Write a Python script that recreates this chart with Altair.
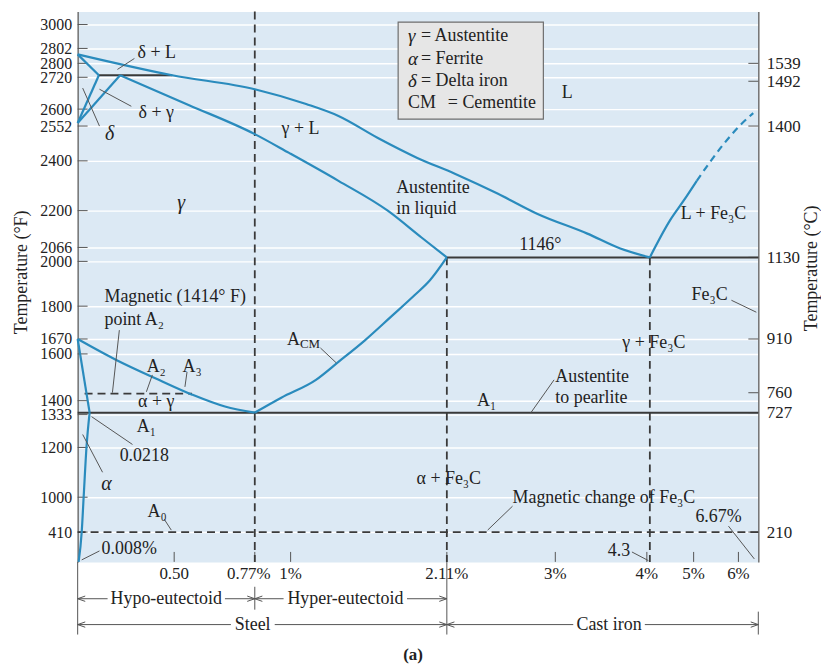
import altair as alt
import pandas as pd

FONT = "Liberation Serif"
TXT = "#222222"
BLUE = "#2a8bbd"
DARK = "#3a3a3a"
AXC = "#707070"
BG = "#dce9f4"

# ---------------- schematic (piecewise) scales ----------------
X_DOM = [0, 0.5, 0.77, 1, 2.11, 3, 4, 4.3, 5, 6, 6.67]
X_RNG = [0, 97, 178, 214, 371, 480, 572, 575, 619, 664, 684]
T_DOM = [70, 410, 1333, 1414, 1670, 2066, 2552, 2720, 2802, 3000, 3103]
T_RNG = [553, 523, 403, 384, 329, 247, 112, 64, 43, 13, 0]

# ---------------- axis ticks ----------------
F_TICKS = [410, 1000, 1200, 1333, 1400, 1600, 1670, 1800, 2000, 2066,
           2200, 2400, 2552, 2600, 2720, 2800, 2802, 3000]
F_RANGE = [523, 488, 438, 405, 391, 344, 329, 296, 251, 237,
           200, 150, 115, 98, 66, 52, 37, 13]
C_TICKS = [210, 727, 760, 910, 1130, 1400, 1492, 1539]
C_RANGE = [523, 403, 383, 329, 247, 115, 70, 52]
X_TICKS = [0.5, 0.77, 1, 2.11, 3, 4, 5, 6]
X_LABELS = ["0.50", "0.77%", "1%", "2.11%", "3%", "4%", "5%", "6%"]

# ---------------- phase boundaries (wt% C, deg F) ----------------
liquidus_x = [0, 0.49, 0.77, 1.11, 1.34, 1.62, 1.9, 2.18, 2.53, 2.85, 3.35, 3.71, 4.3]
liquidus_t = [2802, 2720, 2671, 2619, 2577, 2498, 2426, 2368, 2296, 2224, 2152, 2098, 2066]
gsol_x = [0.22, 0.55, 0.77, 0.99, 1.34, 1.69, 1.93, 2.11]
gsol_t = [2720, 2615, 2512, 2444, 2343, 2235, 2138, 2066]
acm_x = [0.77, 0.94, 1.18, 1.34, 1.53, 1.71, 1.88, 1.99, 2.11]
acm_t = [1333, 1397, 1479, 1563, 1665, 1776, 1882, 1955, 2066]
a3_x = [0, 0.2, 0.42, 0.56, 0.67, 0.77]
a3_t = [1670, 1572, 1479, 1410, 1359, 1333]
asolv_x = [0.062, 0.046, 0.031, 0.021, 0.005]
asolv_t = [1333, 1071, 679, 410, 70]
fe3c_liq_x = [4.3, 4.62, 4.84, 5.07]
fe3c_liq_t = [2066, 2199, 2271, 2343]
fe3c_dash_x = [5.07, 5.67, 6.03, 6.5]
fe3c_dash_t = [2343, 2476, 2541, 2587]

blue_curves = {
    "liquidus": (liquidus_x, liquidus_t),
    "delta_solidus": ([0, 0.11], [2802, 2720]),
    "delta_solvus": ([0, 0.11], [2552, 2720]),
    "gamma_delta": ([0, 0.22], [2552, 2720]),
    "gamma_solidus": (gsol_x, gsol_t),
    "acm": (acm_x, acm_t),
    "a3": (a3_x, a3_t),
    "alpha_upper": ([0, 0.062], [1670, 1333]),
    "alpha_solvus": (asolv_x, asolv_t),
    "fe3c_liq": (fe3c_liq_x, fe3c_liq_t),
}
blue_dashed = {"fe3c_dash": (fe3c_dash_x, fe3c_dash_t)}
black_lines = {
    "peritectic": ([0.11, 0.49], [2720, 2720]),
    "eutectic": ([2.11, 6.67], [2066, 2066]),
    "eutectoid": ([0, 6.67], [1333, 1333]),
}
dashed_lines = {
    "magnetic_A2": ([0.036, 0.56], [1414, 1414]),
    "A0": ([0, 6.67], [410, 410]),
    "v211": ([2.11, 2.11], [2066, 70]),
    "v43": ([4.3, 4.3], [2066, 70]),
}
full_dashed_x = [0.77]

# leader lines: x1, T1, x2, T2
leaders = [
    (0.294, 2786, 0.206, 2743), (0.278, 2611, 0.113, 2671), (0.113, 2541, 0.026, 2675),
    (0.216, 1713, 0.18, 1419), (0.387, 1502, 0.356, 1423), (0.543, 1516, 0.536, 1446),
    (0.284, 1087, 0.072, 1302), (0.129, 872, 0.026, 1164), (0.448, 510, 0.485, 425),
    (0.113, 195, 0.021, 93), (1.212, 1628, 1.325, 1558), (2.99, 1479, 2.8, 1333),
    (5.844, 1858, 6.603, 1800), (2.649, 610, 2.445, 425), (5.778, 456, 6.536, 104),
    (3.837, 183, 4.15, 85),
]

# labels
center_labels = [
    (0.41, 2812, "δ + L"), (0.407, 2587, "δ + γ"), (1.07, 2530, "γ + L"),
    (3.13, 2657, "L"), (2.877, 2109, "1146°"), (5.444, 2224, "L + Fe₃C"),
    (0.407, 1540, "A₂"), (0.56, 1540, "A₃"), (0.407, 1380, "α + γ"),
    (0.356, 1218, "A₁"), (0.345, 995, "0.0218"), (0.412, 564, "A₀"),
    (1.02, 1665, "A"), (2.126, 818, "α + Fe₃C"), (2.437, 1384, "A₁"),
    (4.364, 1651, "γ + Fe₃C"), (5.356, 1882, "Fe₃C"), (5.556, 525, "6.67%"),
    (3.696, 195, "4.3"),
]
left_labels = [
    (0.139, 1873, "Magnetic (1414° F)"), (0.139, 1762, "point A₂"),
    (0.124, 217, "0.008%"), (3.0, 1493, "Austentite"), (3.0, 1397, "to pearlite"),
    (2.649, 672, "Magnetic change of Fe₃C"), (1.75, 2318, "Austentite"),
    (1.75, 2242, "in liquid"),
]
italic_labels = [(0.523, 2264, "γ"), (0.165, 2512, "δ"), (0.149, 779, "α")]
sub_labels = [(1.066, 1645, "CM")]

# legend box
legend_box = (1.764, 2.902, 2566, 3020)
legend_sym = [(1.834, 2921, "γ"), (1.834, 2782, "α"), (1.834, 2699, "δ")]
legend_txt = [(1.926, 2921, "= Austentite"), (1.926, 2782, "= Ferrite"),
              (1.926, 2699, "= Delta iron"), (1.834, 2622, "CM"), (2.118, 2622, "= Cementite")]

# composition brackets below the axis
hypo_segs = [(0, 0.155), (0.67, 0.77), (0.77, 0.955), (1.827, 2.11)]
steel_segs = [(0, 0.69), (0.898, 2.11), (2.11, 3.196), (3.978, 6.67)]
hypo_arrows = [(0, "L"), (0.77, "R"), (0.77, "L"), (2.11, "R")]
steel_arrows = [(0, "L"), (2.11, "R"), (2.11, "L"), (6.67, "R")]
hypo_text = [(0.459, "Hypo-eutectoid"), (1.389, "Hyper-eutectoid")]
steel_text = [(0.763, "Steel"), (3.587, "Cast iron")]

# ---------------- helpers ----------------
XS = alt.Scale(domain=X_DOM, range=X_RNG, nice=False, zero=False)
TS = alt.Scale(domain=T_DOM, range=T_RNG, nice=False, zero=False)


def X(f="x"):
    return alt.X(f"{f}:Q", scale=XS, axis=None)


def Y(f="T"):
    return alt.Y(f"{f}:Q", scale=TS, axis=None)


def long_df(d):
    rows = []
    for name, (xs, ts) in d.items():
        for i, (x, t) in enumerate(zip(xs, ts)):
            rows.append({"seg": name, "i": i, "x": x, "T": t})
    return pd.DataFrame(rows)


def lines(d, **kw):
    return alt.Chart(long_df(d)).mark_line(**kw).encode(
        x=X(), y=Y(), detail="seg:N", order="i:Q")


def texts(lst, **kw):
    df = pd.DataFrame(lst, columns=["x", "T", "label"])
    base = dict(font=FONT, fontSize=18, color=TXT, baseline="middle")
    base.update(kw)
    return alt.Chart(df).mark_text(**base).encode(x=X(), y=Y(), text="label:N")


layers = []

# legend box
lb = pd.DataFrame([legend_box], columns=["x", "x2", "T", "T2"])
layers.append(alt.Chart(lb).mark_rect(fill="#e6e6e6", stroke="#6e6e6e", strokeWidth=1.2).encode(
    x=X(), x2="x2:Q", y=Y(), y2="T2:Q"))

# x ticks + x axis (grid + domain), labels as text
layers.append(alt.Chart(pd.DataFrame({"x": X_TICKS})).mark_rule(color="#555", strokeWidth=1).encode(
    x=alt.X("x:Q", scale=XS, axis=alt.Axis(
        values=X_TICKS, labels=False, grid=True, gridColor="white", gridWidth=1.5,
        ticks=False, tickSize=0, domainColor=AXC, domainWidth=1.5, title="")),
    y=alt.value(553), y2=alt.value(543)))
xlab = pd.DataFrame({"x": X_TICKS, "label": X_LABELS})
layers.append(alt.Chart(xlab[xlab["label"] != "0.77%"]).mark_text(
    font=FONT, fontSize=17, color=TXT, baseline="middle", align="center").encode(
    x=X(), y=alt.value(565), text="label:N"))
layers.append(alt.Chart(xlab[xlab["label"] == "0.77%"]).mark_text(
    font=FONT, fontSize=17, color=TXT, baseline="middle", align="center", dx=-6).encode(
    x=X(), y=alt.value(565), text="label:N"))

# boundaries
layers.append(lines(black_lines, color=DARK, strokeWidth=2))
layers.append(lines(dashed_lines, color=DARK, strokeWidth=1.8, strokeDash=[8, 5]))
layers.append(alt.Chart(pd.DataFrame({"x": full_dashed_x})).mark_rule(
    color=DARK, strokeWidth=1.8, strokeDash=[8, 5]).encode(x=X()))
layers.append(lines(blue_curves, color=BLUE, strokeWidth=2.2, interpolate="monotone"))
layers.append(lines(blue_dashed, color=BLUE, strokeWidth=2.2, strokeDash=[7, 5],
                    interpolate="monotone"))

# leader lines
ld = pd.DataFrame(leaders, columns=["x", "T", "x2", "T2"])
layers.append(alt.Chart(ld).mark_rule(color="#555", strokeWidth=1).encode(
    x=X(), y=Y(), x2="x2:Q", y2="T2:Q"))

# labels
layers.append(texts(center_labels, align="center"))
layers.append(texts(left_labels, align="left"))
layers.append(texts(italic_labels, align="center", fontStyle="italic", fontSize=20))
layers.append(texts(sub_labels, align="left", fontSize=13))
layers.append(texts(legend_sym, align="left", fontStyle="italic", fontSize=19))
layers.append(texts(legend_txt, align="left"))

# brackets below axis
for segs, ypx in [(hypo_segs, 590), (steel_segs, 616)]:
    layers.append(alt.Chart(pd.DataFrame(segs, columns=["x", "x2"])).mark_rule(
        color="#555", strokeWidth=1).encode(x=X(), x2="x2:Q", y=alt.value(ypx)))
for arr, ypx in [(hypo_arrows, 590), (steel_arrows, 616)]:
    layers.append(alt.Chart(pd.DataFrame(arr, columns=["x", "dir"])).mark_point(
        filled=False, color="#555", strokeWidth=1, size=80, opacity=1).encode(
        x=X(), y=alt.value(ypx),
        shape=alt.Shape("dir:N", scale=alt.Scale(
            domain=["L", "R"], range=["M1.7,-0.6L0,0L1.7,0.6", "M-1.7,-0.6L0,0L-1.7,0.6"]),
            legend=None)))
for xs, y1, y2 in [([0, 2.11], 553, 626), ([0.77], 578, 601), ([6.67], 603, 626)]:
    layers.append(alt.Chart(pd.DataFrame({"x": xs})).mark_rule(color="#555", strokeWidth=1).encode(
        x=X(), y=alt.value(y1), y2=alt.value(y2)))
for tl, ypx in [(hypo_text, 590), (steel_text, 616)]:
    layers.append(alt.Chart(pd.DataFrame(tl, columns=["x", "label"])).mark_text(
        font=FONT, fontSize=18, color=TXT, baseline="middle", align="center").encode(
        x=X(), y=alt.value(ypx), text="label:N"))

# axis titles and caption
for t, xv, yv in [("Temperature (°F)", -56, 262), ("Temperature (°C)", 738, 258)]:
    layers.append(alt.Chart(pd.DataFrame({"t": [t]})).mark_text(
        font=FONT, fontSize=18, color=TXT, angle=270, align="center", baseline="middle").encode(
        x=alt.value(xv), y=alt.value(yv), text="t:N"))
layers.append(alt.Chart(pd.DataFrame({"t": ["(a)"]})).mark_text(
    font=FONT, fontSize=17, fontWeight="bold", color=TXT, align="center", baseline="middle").encode(
    x=alt.value(337), y=alt.value(647), text="t:N"))

data_layer = alt.layer(*layers)

# left axis (deg F)
left_axis = alt.Chart(pd.DataFrame({"F": F_TICKS})).mark_rule(color="#555", strokeWidth=1).encode(
    x=alt.value(0), x2=alt.value(10),
    y=alt.Y("F:Q", scale=alt.Scale(domain=[70] + F_TICKS + [3103], range=[553] + F_RANGE + [0],
                                   nice=False, zero=False),
            axis=alt.Axis(orient="left", values=F_TICKS, format="d", title="", grid=True,
                          gridColor="white", gridWidth=1.5, ticks=False, tickSize=0,
                          labelPadding=6, labelFont=FONT, labelFontSize=16, labelColor=TXT,
                          domainColor=AXC, domainWidth=1.5, labelOverlap=False, labelFlush=False)))

# right axis (deg C)
right_axis = alt.Chart(pd.DataFrame({"C": C_TICKS})).mark_rule(color="#555", strokeWidth=1).encode(
    x=alt.value(674), x2=alt.value(684),
    y=alt.Y("C:Q", scale=alt.Scale(domain=[21] + C_TICKS + [1700], range=[553] + C_RANGE + [0],
                                   nice=False, zero=False),
            axis=alt.Axis(orient="right", values=C_TICKS, format="d", title="", grid=False,
                          ticks=False, tickSize=0, labelPadding=8, labelFont=FONT,
                          labelFontSize=17, labelColor=TXT, domainColor=AXC, domainWidth=1.5,
                          labelOverlap=False, labelFlush=False)))

chart = alt.layer(left_axis, right_axis, data_layer).resolve_scale(y="independent").properties(
    width=684, height=553,
    padding={"left": 70, "top": 2, "right": 63, "bottom": 106},
    autosize=alt.AutoSizeParams(type="none"),
    background="white",
).configure_view(fill=BG, stroke="transparent")

chart.save("out.html", embed_options={"renderer": "svg", "actions": False})
